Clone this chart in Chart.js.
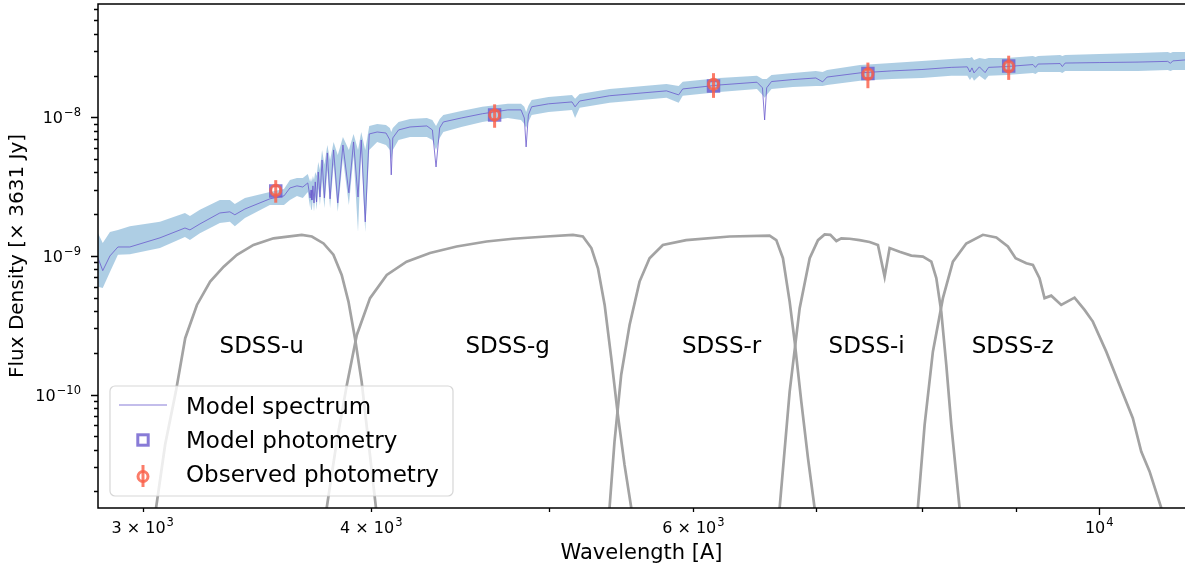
<!DOCTYPE html>
<html>
<head>
<meta charset="utf-8">
<title>SED fit</title>
<script src="https://cdn.jsdelivr.net/npm/chart.js@4.4.1/dist/chart.umd.min.js"></script>
<style>
  html, body { margin: 0; padding: 0; background: #fff; overflow: hidden; }
  canvas { display: block; }
</style>
</head>
<body>
<canvas id="sed" width="1185" height="568"></canvas>
<script>
// --- Model spectrum (wavelength in A, flux in units of 3631 Jy) ---
const specWave = [2836, 2853, 2879, 2908, 2952, 3066, 3164, 3184, 3224, 3306,
  3348, 3369, 3412, 3521, 3584, 3611, 3643, 3670, 3693, 3704,
  3708, 3712, 3717, 3722, 3728, 3734, 3742, 3750, 3760, 3771,
  3785, 3798, 3815, 3835, 3860, 3889, 3912, 3934, 3950, 3970,
  3990, 4030, 4075, 4095, 4102, 4110, 4140, 4200, 4290, 4320,
  4340, 4360, 4380, 4480, 4600, 4750, 4830, 4850, 4861, 4875,
  4895, 5000, 5150, 5170, 5200, 5400, 5800, 5890, 5920, 6200,
  6500, 6545, 6563, 6580, 6620, 6800, 7000, 7060, 7100, 7400,
  7700, 8000, 8300, 8470, 8498, 8520, 8542, 8600, 8662, 8700,
  8900, 9200, 9229, 9260, 9520, 9546, 9580, 10000, 10500, 10900,
  10938, 10970, 11140];
const specFlux = [9.67e-10, 7.83e-10, 1.00e-9, 1.16e-9, 1.16e-9, 1.35e-9, 1.59e-9, 1.54e-9, 1.70e-9, 2.04e-9,
  2.08e-9, 1.98e-9, 2.18e-9, 2.58e-9, 2.71e-9, 3.09e-9, 3.20e-9, 3.14e-9, 3.36e-9, 2.62e-9,
  2.99e-9, 2.53e-9, 3.20e-9, 2.41e-9, 3.42e-9, 2.45e-9, 4.03e-9, 2.66e-9, 4.92e-9, 2.62e-9,
  5.53e-9, 2.58e-9, 5.81e-9, 2.41e-9, 6.31e-9, 2.85e-9, 6.64e-9, 2.66e-9, 6.86e-9, 1.76e-9,
  7.58e-9, 7.83e-9, 7.70e-9, 6.86e-9, 3.84e-9, 7.09e-9, 8.10e-9, 8.51e-9, 8.66e-9, 8.10e-9,
  4.38e-9, 8.37e-9, 9.25e-9, 9.88e-9, 1.06e-8, 1.13e-8, 1.13e-8, 9.88e-9, 6.11e-9, 1.04e-8,
  1.19e-8, 1.25e-8, 1.29e-8, 1.19e-8, 1.31e-8, 1.43e-8, 1.55e-8, 1.45e-8, 1.60e-8, 1.71e-8,
  1.79e-8, 1.63e-8, 9.56e-9, 1.63e-8, 1.81e-8, 1.87e-8, 1.92e-8, 1.80e-8, 1.95e-8, 2.09e-8,
  2.16e-8, 2.21e-8, 2.29e-8, 2.31e-8, 2.12e-8, 2.27e-8, 2.09e-8, 2.31e-8, 2.10e-8, 2.29e-8,
  2.32e-8, 2.40e-8, 2.29e-8, 2.42e-8, 2.44e-8, 2.32e-8, 2.46e-8, 2.48e-8, 2.50e-8, 2.53e-8,
  2.45e-8, 2.55e-8, 2.59e-8];
const specHigh = [1.46e-9, 1.24e-9, 1.49e-9, 1.54e-9, 1.64e-9, 1.76e-9, 2.04e-9, 1.94e-9, 2.15e-9, 2.53e-9,
  2.53e-9, 2.37e-9, 2.62e-9, 2.89e-9, 3.04e-9, 3.53e-9, 3.65e-9, 3.65e-9, 3.90e-9, 3.42e-9,
  3.65e-9, 3.42e-9, 3.77e-9, 3.53e-9, 4.03e-9, 3.77e-9, 4.76e-9, 4.17e-9, 5.81e-9, 4.54e-9,
  6.31e-9, 4.92e-9, 6.64e-9, 5.35e-9, 7.21e-9, 5.81e-9, 7.58e-9, 5.81e-9, 7.83e-9, 5.81e-9,
  8.66e-9, 8.95e-9, 8.80e-9, 8.37e-9, 7.83e-9, 8.37e-9, 9.25e-9, 9.72e-9, 9.88e-9, 9.56e-9,
  8.66e-9, 9.72e-9, 1.04e-8, 1.11e-8, 1.19e-8, 1.25e-8, 1.25e-8, 1.19e-8, 1.09e-8, 1.21e-8,
  1.33e-8, 1.40e-8, 1.45e-8, 1.36e-8, 1.47e-8, 1.60e-8, 1.74e-8, 1.68e-8, 1.80e-8, 1.92e-8,
  1.99e-8, 1.89e-8, 1.89e-8, 1.89e-8, 2.02e-8, 2.09e-8, 2.16e-8, 2.12e-8, 2.19e-8, 2.38e-8,
  2.46e-8, 2.55e-8, 2.63e-8, 2.68e-8, 2.68e-8, 2.72e-8, 2.59e-8, 2.68e-8, 2.63e-8, 2.68e-8,
  2.68e-8, 2.77e-8, 2.72e-8, 2.77e-8, 2.81e-8, 2.77e-8, 2.81e-8, 2.86e-8, 2.91e-8, 2.96e-8,
  2.91e-8, 2.96e-8, 2.96e-8];
const specLow = [5.98e-10, 5.88e-10, 7.67e-10, 1.02e-9, 1.03e-9, 1.14e-9, 1.37e-9, 1.30e-9, 1.46e-9, 1.73e-9,
  1.76e-9, 1.64e-9, 1.88e-9, 2.33e-9, 2.33e-9, 2.53e-9, 2.71e-9, 2.62e-9, 2.89e-9, 2.22e-9,
  2.53e-9, 2.15e-9, 2.62e-9, 2.08e-9, 2.71e-9, 2.15e-9, 3.09e-9, 2.33e-9, 3.53e-9, 2.22e-9,
  4.17e-9, 2.22e-9, 4.54e-9, 2.08e-9, 5.09e-9, 2.33e-9, 5.26e-9, 1.49e-9, 5.81e-9, 1.49e-9,
  5.81e-9, 6.64e-9, 6.31e-9, 5.81e-9, 4.92e-9, 5.81e-9, 6.86e-9, 7.21e-9, 7.21e-9, 6.86e-9,
  5.81e-9, 7.09e-9, 7.83e-9, 8.51e-9, 9.25e-9, 9.88e-9, 9.56e-9, 8.95e-9, 8.37e-9, 9.25e-9,
  1.04e-8, 1.09e-8, 1.13e-8, 9.88e-9, 1.17e-8, 1.27e-8, 1.38e-8, 1.27e-8, 1.43e-8, 1.52e-8,
  1.60e-8, 1.45e-8, 1.38e-8, 1.45e-8, 1.60e-8, 1.65e-8, 1.68e-8, 1.68e-8, 1.71e-8, 1.83e-8,
  1.89e-8, 1.92e-8, 1.99e-8, 1.99e-8, 1.86e-8, 1.95e-8, 1.83e-8, 1.99e-8, 1.86e-8, 1.99e-8,
  2.02e-8, 2.09e-8, 2.05e-8, 2.12e-8, 2.12e-8, 2.09e-8, 2.16e-8, 2.16e-8, 2.16e-8, 2.19e-8,
  2.16e-8, 2.19e-8, 2.19e-8];

// --- SDSS photometry: model vs observed ---
const photWave = [3547, 4672, 6154, 7474, 8923];
const modelPhot = [2.94e-9, 1.04e-8, 1.68e-8, 2.07e-8, 2.34e-8];
const obsPhot = [2.97e-9, 1.04e-8, 1.73e-8, 2.05e-8, 2.32e-8];
const obsErr = [0.55e-9, 0.20e-8, 0.35e-8, 0.43e-8, 0.46e-8];

// --- filter responses, scaled onto the flux axis ---
const uWave = [3040, 3051, 3086, 3128, 3165, 3212, 3266, 3322, 3378, 3449, 3537, 3665, 3712, 3767, 3814, 3854, 3887, 3919, 3952, 3986, 4024, 4039];
const uResp = [1.0e-11, 1.52e-11, 4.34e-11, 1.05e-10, 2.55e-10, 4.43e-10, 6.53e-10, 8.37e-10, 1.02e-9, 1.20e-9, 1.34e-9, 1.42e-9, 1.38e-9, 1.23e-9, 1.02e-9, 7.29e-10, 4.68e-10, 2.55e-10, 1.24e-10, 4.58e-11, 1.52e-11, 1.0e-11];
const gWave = [3765, 3782, 3830, 3879, 3928, 3994, 4079, 4182, 4307, 4454, 4625, 4781, 4986, 5156, 5221, 5277, 5321, 5366, 5411, 5456, 5502, 5549, 5575];
const gResp = [1.0e-11, 1.52e-11, 4.58e-11, 1.17e-10, 2.69e-10, 4.96e-10, 7.29e-10, 9.09e-10, 1.05e-9, 1.17e-9, 1.27e-9, 1.33e-9, 1.38e-9, 1.42e-9, 1.38e-9, 1.14e-9, 8.15e-10, 4.43e-10, 1.83e-10, 7.14e-11, 3.11e-11, 1.52e-11, 1.0e-11];
const rWave = [5386, 5399, 5433, 5479, 5537, 5607, 5678, 5774, 5946, 6280, 6604, 6660, 6716, 6773, 6816, 6873, 6931, 6989, 7019];
const rResp = [1.0e-11, 1.52e-11, 4.58e-11, 1.39e-10, 3.18e-10, 6.53e-10, 9.63e-10, 1.20e-9, 1.30e-9, 1.38e-9, 1.40e-9, 1.30e-9, 9.63e-10, 4.68e-10, 2.41e-10, 8.90e-11, 3.48e-11, 1.52e-11, 1.0e-11];
const iWave = [6671, 6688, 6773, 6859, 6946, 7019, 7078, 7129, 7183, 7228, 7304, 7396, 7490, 7569, 7633, 7681, 7778, 7894, 8010, 8095, 8146, 8197, 8249, 8301, 8388, 8415];
const iResp = [1.0e-11, 1.52e-11, 1.05e-10, 4.20e-10, 9.63e-10, 1.30e-9, 1.43e-9, 1.42e-9, 1.28e-9, 1.34e-9, 1.33e-9, 1.30e-9, 1.26e-9, 1.20e-9, 7.09e-10, 1.14e-9, 1.07e-9, 1.005e-9, 9.88e-10, 9.09e-10, 6.91e-10, 3.97e-10, 1.64e-10, 6.05e-11, 1.52e-11, 1.0e-11];
const zWave = [7939, 7959, 8027, 8111, 8214, 8318, 8459, 8638, 8785, 8914, 9001, 9123, 9199, 9276, 9335, 9414, 9533, 9694, 9817, 9920, 10089, 10259, 10432, 10543, 10654, 10812, 10918];
const zResp = [1.0e-11, 1.52e-11, 6.05e-11, 2.04e-10, 4.96e-10, 9.09e-10, 1.23e-9, 1.42e-9, 1.36e-9, 1.17e-9, 9.63e-10, 8.86e-10, 8.61e-10, 6.91e-10, 4.96e-10, 5.17e-10, 4.43e-10, 5.00e-10, 4.08e-10, 3.36e-10, 2.04e-10, 1.17e-10, 6.76e-11, 3.88e-11, 2.79e-11, 1.52e-11, 1.0e-11];

const filterNames = ['SDSS-u', 'SDSS-g', 'SDSS-r', 'SDSS-i', 'SDSS-z'];
const filterLabelWave = [3485, 4749, 6217, 7462, 8968];
const filterLabelFlux = 2.0e-10;

// --- axis ticks (labels split into base and exponent) ---
const xTickValues = [3000, 4000, 6000, 10000];
const xTickBase = ['3 × 10', '4 × 10', '6 × 10', '10'];
const xTickExp = ['3', '3', '3', '4'];
const xMajorTicks = [10000];
const xMinorTicks = [3000, 4000, 5000, 6000, 7000, 8000, 9000];
const yTickValues = [1e-10, 1e-9, 1e-8];
const yTickBase = ['10', '10', '10'];
const yTickExp = ['−10', '−9', '−8'];
const yMajorTicks = [1e-10, 1e-9, 1e-8];
const yMinorTicks = [2e-11, 3e-11, 4e-11, 5e-11, 6e-11, 7e-11, 8e-11, 9e-11,
  2e-10, 3e-10, 4e-10, 5e-10, 6e-10, 7e-10, 8e-10, 9e-10,
  2e-9, 3e-9, 4e-9, 5e-9, 6e-9, 7e-9, 8e-9, 9e-9,
  2e-8, 3e-8, 4e-8, 5e-8, 6e-8];

const FONT = '"DejaVu Sans", "Liberation Sans", sans-serif';
const SPEC_COLOR = 'rgba(106, 90, 205, 0.8)';
const BAND_COLOR = 'rgba(31, 119, 180, 0.36)';
const MODEL_COLOR = 'rgba(106, 90, 205, 0.8)';
const OBS_COLOR = 'rgba(250, 95, 72, 0.82)';
const FILTER_COLOR = '#a3a3a3';
const OBS_INDEX = 4;

const pts = (xs, ys) => xs.map((x, i) => ({x: x, y: ys[i]}));

function filterDataset(xs, ys) {
  return {
    data: pts(xs, ys), borderColor: FILTER_COLOR, borderWidth: 2.7,
    pointRadius: 0, fill: false, tension: 0, order: 6
  };
}

// errorbars for the observed points, drawn just before the circles
function drawErrorBars(chart) {
  const {ctx, scales: {x, y}} = chart;
  ctx.save();
  ctx.strokeStyle = OBS_COLOR;
  ctx.lineWidth = 3;
  photWave.forEach((w, i) => {
    const px = x.getPixelForValue(w);
    ctx.beginPath();
    ctx.moveTo(px, y.getPixelForValue(obsPhot[i] + obsErr[i]));
    ctx.lineTo(px, y.getPixelForValue(obsPhot[i] - obsErr[i]));
    ctx.stroke();
  });
  ctx.restore();
}

function drawFilterLabels(chart) {
  const {ctx, scales: {x, y}} = chart;
  ctx.save();
  ctx.fillStyle = '#000';
  ctx.font = '23px ' + FONT;
  ctx.textAlign = 'center';
  ctx.textBaseline = 'alphabetic';
  filterNames.forEach((name, i) => {
    ctx.fillText(name, x.getPixelForValue(filterLabelWave[i]), y.getPixelForValue(filterLabelFlux));
  });
  ctx.restore();
}

function drawLegend(chart) {
  const {ctx, chartArea: a} = chart;
  const w = 343, h = 110;
  const x0 = a.left + 12, y0 = a.bottom - 12 - h, r = 5;
  ctx.save();
  ctx.beginPath();
  ctx.moveTo(x0 + r, y0);
  ctx.arcTo(x0 + w, y0, x0 + w, y0 + h, r);
  ctx.arcTo(x0 + w, y0 + h, x0, y0 + h, r);
  ctx.arcTo(x0, y0 + h, x0, y0, r);
  ctx.arcTo(x0, y0, x0 + w, y0, r);
  ctx.closePath();
  ctx.fillStyle = 'rgba(255,255,255,0.8)';
  ctx.fill();
  ctx.strokeStyle = 'rgba(204,204,204,0.8)';
  ctx.lineWidth = 1.2;
  ctx.stroke();

  const mx = x0 + 33;
  // spectrum sample
  ctx.strokeStyle = SPEC_COLOR;
  ctx.lineWidth = 1.2;
  ctx.beginPath();
  ctx.moveTo(x0 + 9, y0 + 19);
  ctx.lineTo(x0 + 57, y0 + 19);
  ctx.stroke();
  // model photometry square
  ctx.strokeStyle = MODEL_COLOR;
  ctx.lineWidth = 3;
  ctx.strokeRect(mx - 5.2, y0 + 54 - 5.2, 10.4, 10.4);
  // observed point with errorbar
  ctx.strokeStyle = OBS_COLOR;
  ctx.beginPath();
  ctx.moveTo(mx, y0 + 79);
  ctx.lineTo(mx, y0 + 101);
  ctx.stroke();
  ctx.beginPath();
  ctx.arc(mx, y0 + 90.5, 5, 0, Math.PI * 2);
  ctx.stroke();

  ctx.fillStyle = '#000';
  ctx.font = '23px ' + FONT;
  ctx.textAlign = 'left';
  ctx.textBaseline = 'alphabetic';
  ctx.fillText('Model spectrum', x0 + 76, y0 + 27.5);
  ctx.fillText('Model photometry', x0 + 76, y0 + 62);
  ctx.fillText('Observed photometry', x0 + 76, y0 + 95.5);
  ctx.restore();
}

// "base^exp" tick label; align is 'center' or 'right'
function drawPowerLabel(ctx, base, exp, x, baseline, align) {
  ctx.font = '16px ' + FONT;
  const wb = ctx.measureText(base).width;
  ctx.font = '11.5px ' + FONT;
  const we = ctx.measureText(exp).width;
  const total = wb + 1 + we;
  const left = align === 'right' ? x - total : x - total / 2;
  ctx.font = '16px ' + FONT;
  ctx.fillText(base, left, baseline);
  ctx.font = '11.5px ' + FONT;
  ctx.fillText(exp, left + wb + 1, baseline - 7);
}

// spines, matplotlib-style tick marks and tick labels
function drawFrame(chart) {
  const {ctx, chartArea: a, scales: {x, y}} = chart;
  ctx.save();
  ctx.strokeStyle = '#000';
  ctx.lineWidth = 1.5;
  ctx.beginPath();
  ctx.moveTo(a.left, a.top);
  ctx.lineTo(a.left, a.bottom);
  ctx.moveTo(a.left - 0.75, a.bottom);
  ctx.lineTo(a.right, a.bottom);
  ctx.moveTo(a.left - 0.75, a.top);
  ctx.lineTo(a.right, a.top);
  ctx.stroke();
  ctx.lineWidth = 1.3;
  ctx.beginPath();
  const xTick = (v, len) => {
    const p = Math.round(x.getPixelForValue(v)) + 0.5;
    ctx.moveTo(p, a.bottom); ctx.lineTo(p, a.bottom + len);
  };
  const yTick = (v, len) => {
    const p = Math.round(y.getPixelForValue(v)) + 0.5;
    ctx.moveTo(a.left, p); ctx.lineTo(a.left - len, p);
  };
  xMajorTicks.forEach(v => xTick(v, 7));
  xMinorTicks.forEach(v => xTick(v, 4));
  yMajorTicks.forEach(v => yTick(v, 7));
  yMinorTicks.forEach(v => yTick(v, 4));
  ctx.stroke();

  ctx.fillStyle = '#000';
  ctx.textAlign = 'left';
  ctx.textBaseline = 'alphabetic';
  xTickValues.forEach((v, i) => {
    drawPowerLabel(ctx, xTickBase[i], xTickExp[i], x.getPixelForValue(v), a.bottom + 25, 'center');
  });
  yTickValues.forEach((v, i) => {
    drawPowerLabel(ctx, yTickBase[i], yTickExp[i], a.left - 17, y.getPixelForValue(v) + 6, 'right');
  });
  ctx.restore();
}

const decorations = {
  id: 'decorations',
  beforeDatasetDraw(chart, args) {
    if (args.index === OBS_INDEX) drawErrorBars(chart);
  },
  afterDatasetsDraw(chart) {
    drawFilterLabels(chart);
    drawLegend(chart);
  },
  afterDraw(chart) {
    drawFrame(chart);
  }
};

Chart.defaults.font.family = FONT;
Chart.defaults.color = '#000';

new Chart(document.getElementById('sed'), {
  type: 'line',
  data: {
    datasets: [
      // 0, 1: uncertainty band around the model spectrum
      { data: pts(specWave, specHigh), borderWidth: 0, pointRadius: 0, backgroundColor: BAND_COLOR,
        fill: '+1', tension: 0, order: 8 },
      { data: pts(specWave, specLow), borderWidth: 0, pointRadius: 0, fill: false, tension: 0, order: 7 },
      // 2: model spectrum
      { data: pts(specWave, specFlux), borderColor: SPEC_COLOR, borderWidth: 1, pointRadius: 0,
        fill: false, tension: 0, order: 3 },
      // 3: model photometry
      { data: pts(photWave, modelPhot), showLine: false, pointStyle: 'rect', pointRadius: 7.4,
        pointBorderWidth: 3, pointBorderColor: MODEL_COLOR, pointBackgroundColor: 'rgba(0,0,0,0)', order: 2 },
      // 4: observed photometry
      { data: pts(photWave, obsPhot), showLine: false, pointStyle: 'circle', pointRadius: 5,
        pointBorderWidth: 3, pointBorderColor: OBS_COLOR, pointBackgroundColor: 'rgba(0,0,0,0)', order: 1 },
      filterDataset(uWave, uResp),
      filterDataset(gWave, gResp),
      filterDataset(rWave, rResp),
      filterDataset(iWave, iResp),
      filterDataset(zWave, zResp)
    ]
  },
  options: {
    responsive: false,
    animation: false,
    devicePixelRatio: 1,
    layout: { autoPadding: false, padding: { top: 4, right: 0, left: 0, bottom: 0 } },
    plugins: { legend: { display: false }, tooltip: { enabled: false } },
    scales: {
      x: {
        type: 'logarithmic',
        bounds: 'data',
        min: 2836, max: 11140,
        grid: { display: false, drawTicks: false },
        border: { display: false },
        ticks: { display: false },
        afterFit: s => { s.height = 60; s.paddingLeft = 0; s.paddingRight = 0; },
        title: { display: true, text: 'Wavelength [A]', font: { size: 21 }, padding: { top: 0, bottom: 2 } }
      },
      y: {
        type: 'logarithmic',
        bounds: 'data',
        min: 1.52e-11, max: 6.56e-8,
        grid: { display: false, drawTicks: false },
        border: { display: false },
        ticks: { display: false },
        afterFit: s => { s.width = 98; s.paddingTop = 0; s.paddingBottom = 0; },
        title: { display: true, text: 'Flux Density [× 3631 Jy]', font: { size: 20 }, padding: { top: 6, bottom: 0 } }
      }
    }
  },
  plugins: [decorations]
});
</script>
</body>
</html>
